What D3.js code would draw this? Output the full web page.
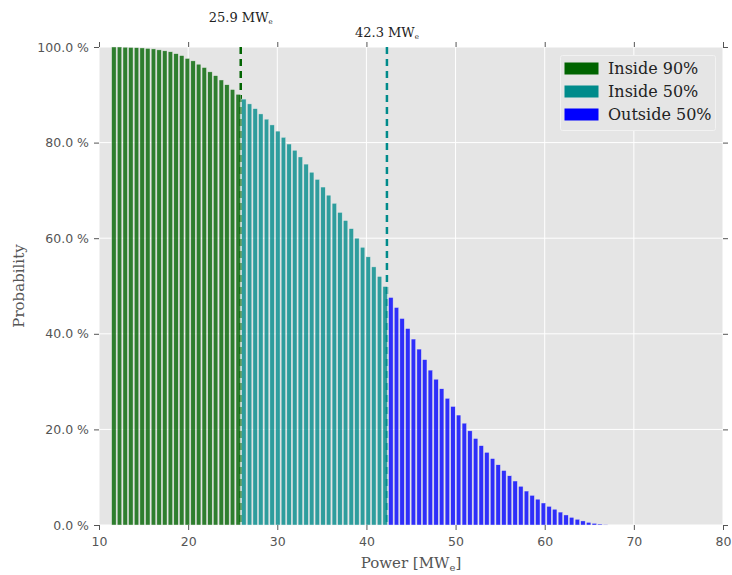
<!DOCTYPE html>
<html>
<head>
<meta charset="utf-8">
<script src="https://cdn.jsdelivr.net/npm/d3@7/dist/d3.min.js"></script>
<style>
  html, body { margin: 0; padding: 0; background: #ffffff; }
  svg { display: block; }
</style>
</head>
<body>
<svg id="chart" width="732" height="575"></svg>
<script>
// ---- Data ----
const power = [
  11.42, 12.05, 12.69, 13.32, 13.96, 14.59, 15.22, 15.86, 16.49, 17.13,
  17.76, 18.39, 19.03, 19.66, 20.30, 20.93, 21.56, 22.20, 22.83, 23.47,
  24.10, 24.73, 25.37, 26.00, 26.64, 27.27, 27.90, 28.54, 29.17, 29.81,
  30.44, 31.07, 31.71, 32.34, 32.98, 33.61, 34.24, 34.88, 35.51, 36.15,
  36.78, 37.41, 38.05, 38.68, 39.32, 39.95, 40.58, 41.22, 41.85, 42.49,
  43.12, 43.75, 44.39, 45.02, 45.66, 46.29, 46.92, 47.56, 48.19, 48.83,
  49.46, 50.09, 50.73, 51.36, 52.00, 52.63, 53.26, 53.90, 54.53, 55.17,
  55.80, 56.43, 57.07, 57.70, 58.34, 58.97, 59.60, 60.24, 60.87, 61.51,
  62.14, 62.77, 63.41, 64.04, 64.68, 65.31, 65.94, 66.58
];
const probability = [
  100.0, 100.0, 99.95, 99.9, 99.85, 99.8, 99.7, 99.6, 99.4, 99.2,
  99.0, 98.6, 98.2, 97.6, 97.1, 96.4, 95.7, 94.8, 94.0, 93.1,
  92.1, 91.1, 90.1, 89.1, 88.1, 87.1, 86.0, 84.9, 83.7, 82.4,
  81.1, 79.7, 78.4, 77.0, 75.5, 73.8, 72.3, 70.7, 69.0, 67.3,
  65.4, 63.7, 62.0, 60.0, 58.1, 56.1, 54.0, 52.0, 49.9, 47.6,
  45.5, 43.2, 41.1, 38.9, 36.8, 34.6, 32.4, 30.5, 28.5, 26.5,
  24.8, 23.0, 21.3, 19.7, 18.1, 16.6, 15.2, 13.9, 12.6, 11.4,
  10.3, 9.2, 8.1, 7.1, 6.2, 5.4, 4.6, 3.9, 3.3, 2.7,
  2.1, 1.6, 1.2, 0.85, 0.55, 0.35, 0.2, 0.08
];
const thresholds = [25.9, 42.3];           // P90, P50 power levels
const thresholdLabels = ["25.9", "42.3"];
const categories = ["Inside 90%", "Inside 50%", "Outside 50%"];
const colors = ["#006400", "#008b8b", "#0000ff"];
const xTicks = [10, 20, 30, 40, 50, 60, 70, 80];
const yTicks = [0, 20, 40, 60, 80, 100];
const barWidthMW = 0.5;

// ---- Layout ----
const svg = d3.select("#chart");
const m = { left: 99, right: 732 - 723, top: 47, bottom: 575 - 525 };
const W = 732, H = 575;
const x = d3.scaleLinear().domain([10, 80]).range([m.left, W - m.right]);
const y = d3.scaleLinear().domain([0, 100]).range([H - m.bottom, m.top]);

const serif = "'DejaVu Serif', 'Liberation Serif', serif";
const sans = "'DejaVu Sans', 'Liberation Sans', sans-serif";
const tickColor = "#555555";

// background
svg.append("rect")
  .attr("x", x(10)).attr("y", y(100))
  .attr("width", x(80) - x(10)).attr("height", y(0) - y(100))
  .attr("fill", "#e5e5e5");

// gridlines
svg.append("g").selectAll("line.vg").data(xTicks).join("line")
  .attr("x1", d => x(d)).attr("x2", d => x(d))
  .attr("y1", y(0)).attr("y2", y(100))
  .attr("stroke", "#ffffff").attr("stroke-width", 1);
svg.append("g").selectAll("line.hg").data(yTicks).join("line")
  .attr("x1", x(10)).attr("x2", x(80))
  .attr("y1", d => y(d)).attr("y2", d => y(d))
  .attr("stroke", "#ffffff").attr("stroke-width", 1);

// threshold dashed lines (behind bars)
svg.append("g").selectAll("line.th").data(thresholds).join("line")
  .attr("x1", d => x(d)).attr("x2", d => x(d))
  .attr("y1", y(100)).attr("y2", y(0))
  .attr("stroke", (d, i) => colors[i])
  .attr("stroke-width", 2.5)
  .attr("stroke-dasharray", "7,5");

// bars
function catIndex(p) {
  if (p < thresholds[0]) return 0;
  if (p < thresholds[1]) return 1;
  return 2;
}
const bars = power.map((p, i) => ({ p, v: probability[i], c: catIndex(p) }));
svg.append("g").selectAll("rect.bar").data(bars).join("rect")
  .attr("x", d => x(d.p))
  .attr("y", d => y(d.v))
  .attr("width", x(barWidthMW) - x(0))
  .attr("height", d => y(0) - y(d.v))
  .attr("fill", d => colors[d.c])
  .attr("fill-opacity", 0.8)
  .attr("stroke", "#eeeeee")
  .attr("stroke-opacity", 0.8)
  .attr("stroke-width", 0.5);

// axes
function styleAxis(g) {
  g.select(".domain").remove();
  g.selectAll(".tick line").attr("stroke", tickColor);
  g.selectAll(".tick text").attr("fill", tickColor)
    .style("font-family", sans).style("font-size", "12.5px");
}
svg.append("g").attr("transform", `translate(0,${y(0)})`)
  .call(d3.axisBottom(x).tickValues(xTicks).tickSize(5).tickPadding(7).tickFormat(d3.format("d")))
  .call(styleAxis);
svg.append("g").attr("transform", `translate(0,${y(100)})`)
  .call(d3.axisTop(x).tickValues(xTicks).tickSize(5).tickFormat(""))
  .call(styleAxis);
svg.append("g").attr("transform", `translate(${x(10)},0)`)
  .call(d3.axisLeft(y).tickValues(yTicks).tickSize(5).tickPadding(5).tickFormat(d => d3.format(".1f")(d) + " %"))
  .call(styleAxis);
svg.append("g").attr("transform", `translate(${x(80)},0)`)
  .call(d3.axisRight(y).tickValues(yTicks).tickSize(5).tickFormat(""))
  .call(styleAxis);

// axis labels
const xl = svg.append("text")
  .attr("x", (x(10) + x(80)) / 2).attr("y", 568)
  .attr("text-anchor", "middle")
  .style("font-family", serif).style("font-size", "15px").attr("fill", tickColor);
xl.append("tspan").text("Power [MW");
xl.append("tspan").text("e").style("font-size", "10px").attr("dy", 3);
xl.append("tspan").text("]").attr("dy", -3);

svg.append("text")
  .attr("transform", `translate(24,${(y(0) + y(100)) / 2}) rotate(-90)`)
  .attr("text-anchor", "middle")
  .style("font-family", serif).style("font-size", "15px").attr("fill", tickColor)
  .text("Probability");

// threshold annotations
const annY = [22, 37];
thresholds.forEach((t, i) => {
  const tx = svg.append("text")
    .attr("x", x(t)).attr("y", annY[i])
    .attr("text-anchor", "middle")
    .style("font-family", serif).style("font-size", "13px").attr("fill", "#222222");
  tx.append("tspan").text(thresholdLabels[i] + " MW");
  tx.append("tspan").text("e").style("font-size", "7px").attr("dy", 2);
});

// legend
const lg = svg.append("g");
lg.append("rect")
  .attr("x", 560.5).attr("y", 55.5).attr("width", 155).attr("height", 75)
  .attr("rx", 2)
  .attr("fill", "#e5e5e5").attr("stroke", "#f2f2f2").attr("stroke-width", 1);
categories.forEach((c, i) => {
  const ry = 62.5 + i * 23;
  lg.append("rect").attr("x", 564.5).attr("y", ry).attr("width", 34).attr("height", 12)
    .attr("fill", colors[i]);
  lg.append("text").attr("x", 608).attr("y", ry + 11.5)
    .style("font-family", serif).style("font-size", "16px").attr("fill", "#222222")
    .text(c);
});
</script>
</body>
</html>
